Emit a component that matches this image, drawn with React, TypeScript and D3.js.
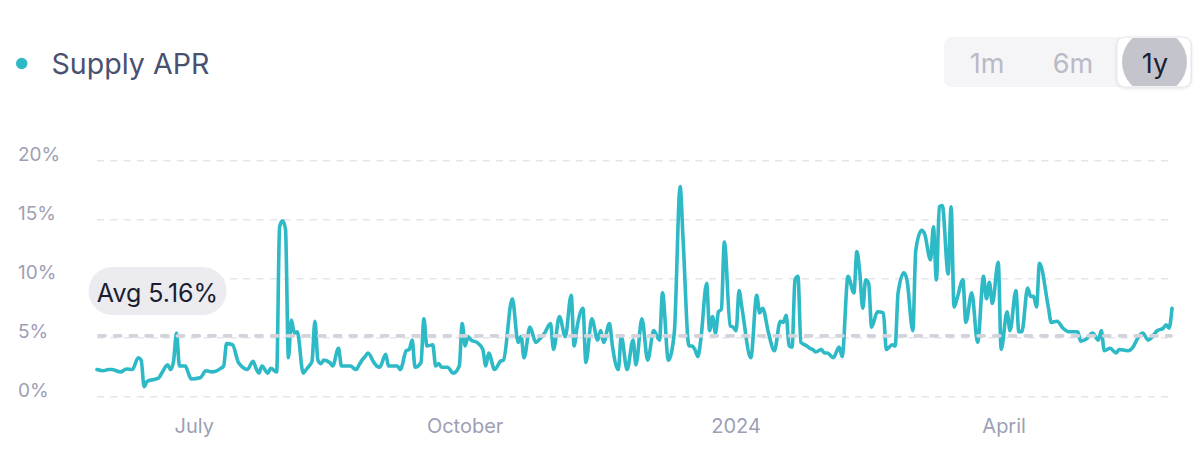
import React from "react";
import * as d3 from "d3";

// ---- Data ----
const START_DATE = new Date(2023, 4, 29);
const SPAN_DAYS = 365;
const AVG_APR = 5.16;
const SERIES_NAME = "Supply APR";
const RANGE_BUTTONS = ["1m", "6m", "1y"];
const ACTIVE_RANGE = "1y";
const Y_TICKS = [0, 5, 10, 15, 20];

const dayOffsets = [
  0, 2, 4, 5, 8, 10, 12, 14, 15, 16, 17, 20, 21, 22, 24, 25, 26, 27, 28, 30, 31, 32, 35, 37, 39, 42, 43, 44, 46, 48,
  49, 51, 53, 54, 55, 56, 58, 59, 61, 62, 63, 64, 65, 66, 67, 68, 70, 71, 72, 73, 74, 75, 76, 77, 79, 80, 82, 83, 85, 86,
  88, 89, 90, 91, 92, 94, 95, 96, 98, 99, 102, 103, 105, 106, 107, 108, 110, 111, 112, 114, 115, 116, 117, 119, 121, 123, 124, 125, 126, 127,
  129, 131, 132, 133, 135, 137, 138, 141, 143, 144, 145, 147, 149, 150, 152, 154, 155, 157, 159, 161, 162, 163, 165, 166, 168, 170, 171, 172, 174, 175,
  177, 178, 180, 182, 183, 185, 187, 189, 191, 192, 194, 196, 198, 199, 201, 202, 203, 204, 205, 207, 208, 209, 210, 211, 212, 213, 215, 216, 217, 218,
  219, 222, 224, 225, 226, 228, 230, 232, 233, 234, 235, 236, 237, 238, 239, 241, 242, 243, 244, 246, 247, 248, 250, 252, 253, 255, 257, 258, 259, 260,
  261, 262, 263, 265, 267, 268, 270, 271, 272, 274, 275, 277, 278, 280, 281, 283, 284, 285, 286, 287, 289, 290, 291, 292, 294, 295, 297, 299, 301, 302,
  303, 304, 306, 307, 309, 310, 312, 313, 314, 316, 317, 318, 319, 320, 323, 324, 326, 328, 330, 333, 334, 336, 338, 340, 341, 342, 344, 346, 347, 350,
  352, 353, 355, 357, 358, 360, 362, 363, 364, 365,
];

const aprValues = [
  2.3, 2.2, 2.3, 2.3, 2.1, 2.35, 2.3, 3.3, 3.1, 0.85, 1.3, 1.5, 1.6, 2.0, 2.7, 2.3, 3.0, 5.4, 2.6, 2.6, 2.0, 1.5, 1.6, 2.2, 2.1, 2.4, 2.6, 4.5, 4.4, 2.9,
  2.6, 2.3, 3.0, 2.4, 2.0, 2.6, 2.0, 2.4, 2.1, 14.4, 14.9, 14.2, 3.3, 6.5, 5.4, 5.5, 2.0, 2.3, 2.6, 3.0, 6.4, 3.1, 2.8, 3.1, 2.9, 2.6, 4.1, 2.6, 2.6, 2.6,
  2.3, 2.7, 3.1, 3.4, 3.7, 2.9, 2.6, 2.5, 3.6, 2.6, 2.6, 2.3, 3.9, 4.0, 4.8, 2.5, 2.9, 6.6, 4.3, 4.4, 2.6, 2.8, 2.5, 2.5, 2.0, 2.6, 6.2, 4.3, 5.1, 4.8,
  4.6, 4.0, 2.6, 3.7, 2.3, 3.0, 3.1, 8.3, 4.6, 5.1, 3.3, 5.9, 4.6, 4.8, 5.4, 6.2, 4.0, 6.8, 5.1, 8.6, 4.3, 5.9, 7.5, 2.9, 6.6, 4.8, 5.6, 4.6, 6.2, 4.3,
  2.3, 5.1, 2.3, 4.8, 2.7, 6.6, 3.1, 5.6, 4.8, 8.8, 3.1, 5.4, 17.8, 13.3, 4.3, 4.3, 4.0, 3.4, 4.8, 9.6, 5.6, 6.8, 5.4, 7.2, 7.4, 13.1, 6.0, 5.9, 5.6, 9.0,
  7.5, 3.3, 8.6, 7.1, 7.5, 5.4, 3.9, 6.4, 6.3, 6.9, 4.3, 4.2, 9.9, 10.2, 4.6, 4.3, 4.1, 4.0, 3.8, 4.0, 3.7, 3.7, 3.3, 4.2, 3.4, 10.2, 8.8, 12.3, 10.5, 7.5,
  9.9, 9.6, 5.9, 7.2, 7.1, 4.0, 4.4, 4.3, 8.8, 10.5, 9.9, 5.6, 12.4, 14.1, 13.8, 11.6, 14.4, 9.9, 16.1, 16.2, 10.4, 16.1, 7.6, 8.3, 9.9, 6.3, 8.8, 4.6, 10.2, 8.3,
  9.7, 7.9, 11.4, 4.0, 7.2, 5.6, 9.0, 5.5, 5.5, 9.2, 8.5, 8.5, 7.6, 11.3, 7.6, 6.3, 6.4, 5.8, 5.5, 5.5, 4.7, 4.9, 5.4, 4.8, 5.6, 3.9, 4.1, 3.7, 4.0, 3.9,
  4.3, 4.8, 5.4, 4.8, 5.0, 5.6, 5.8, 6.1, 5.8, 7.5,
];

// ---- Layout / style ----
const W = 1200;
const H = 451;
const PLOT_LEFT = 97;
const PLOT_RIGHT = 1173;
const PLOT_TOP = 160.7;
const PLOT_BOTTOM = 396.7;
const TEAL = "#2db9c5";
const FONT = "Inter, 'Noto Sans', sans-serif";

export default function App() {
  const data = dayOffsets.map((d, i) => ({ date: d3.timeDay.offset(START_DATE, d), value: aprValues[i] }));
  const endDate = d3.timeDay.offset(START_DATE, SPAN_DAYS);

  const x = d3.scaleTime().domain([START_DATE, endDate]).range([PLOT_LEFT, PLOT_RIGHT - 1]);
  const y = d3.scaleLinear().domain([0, 20]).range([PLOT_BOTTOM, PLOT_TOP]);

  const line = d3
    .line<{ date: Date; value: number }>()
    .x((d) => x(d.date))
    .y((d) => y(d.value))
    .curve(d3.curveMonotoneX);

  const xTicks = x.ticks(d3.timeMonth.every(3) as any);
  const fmt = x.tickFormat();

  const avgY = y(AVG_APR);

  // buttons geometry
  const btnX = [987, 1073, 1155];

  return (
    <svg
      width={W}
      height={H}
      viewBox={`0 0 ${W} ${H}`}
      style={{ position: "absolute", left: 0, top: 0, background: "#fff" }}
      fontFamily={FONT}
    >
      <defs>
        <filter id="btnShadow" x="-20%" y="-20%" width="140%" height="140%">
          <feDropShadow dx="0" dy="1" stdDeviation="1.5" floodColor="#000" floodOpacity="0.12" />
        </filter>
        <clipPath id="activeClip">
          <rect x={1118} y={38} width={72} height={48} rx={7} />
        </clipPath>
      </defs>

      {/* Legend */}
      <circle cx={21.7} cy={63.5} r={5.7} fill={TEAL} />
      <text x={51.5} y={74.3} fontSize={28.6} fill="#4a5070">
        {SERIES_NAME}
      </text>

      {/* Range buttons */}
      <rect x={944} y={37} width={248} height={50} rx={8} fill="#f5f5f7" />
      <rect x={1117} y={37} width={74} height={50} rx={8} fill="#fff" stroke="#e6e6ec" strokeWidth={1} filter="url(#btnShadow)" />
      <circle cx={1154.5} cy={62} r={32.5} fill="#c4c5cc" clipPath="url(#activeClip)" />
      {RANGE_BUTTONS.map((b, i) => (
        <text
          key={b}
          x={btnX[i]}
          y={73}
          fontSize={27}
          textAnchor="middle"
          fill={b === ACTIVE_RANGE ? "#1b1f33" : "#b8bac6"}
        >
          {b}
        </text>
      ))}

      {/* Grid */}
      {Y_TICKS.map((t) => (
        <g key={t}>
          <line
            x1={PLOT_LEFT}
            x2={PLOT_RIGHT}
            y1={y(t)}
            y2={y(t)}
            stroke="#e4e5eb"
            strokeWidth={1.6}
            strokeDasharray="7 6.3"
          />
          <text x={18} y={y(t) + 0.5} fontSize={19} fill="#9da0b4">
            {`${t}%`}
          </text>
        </g>
      ))}

      {/* X axis labels */}
      {xTicks.map((t) => (
        <text key={+t} x={x(t)} y={433} fontSize={20} textAnchor="middle" fill="#9da0b4">
          {fmt(t)}
        </text>
      ))}

      {/* Series */}
      <path d={line(data) || ""} fill="none" stroke={TEAL} strokeWidth={3.6} strokeLinejoin="round" strokeLinecap="round" />

      {/* Average */}
      <line
        x1={PLOT_LEFT + 2}
        x2={PLOT_RIGHT - 2}
        y1={avgY}
        y2={avgY}
        stroke="#d2d3db"
        strokeWidth={3.8}
        strokeDasharray="6 9.7"
        strokeLinecap="round"
      />
      <rect x={88.5} y={267} width={138} height={48} rx={24} fill="#ebebf0" />
      <text x={157.5} y={302} fontSize={25} textAnchor="middle" fill="#1b1e30">
        {`Avg ${AVG_APR}%`}
      </text>
    </svg>
  );
}
